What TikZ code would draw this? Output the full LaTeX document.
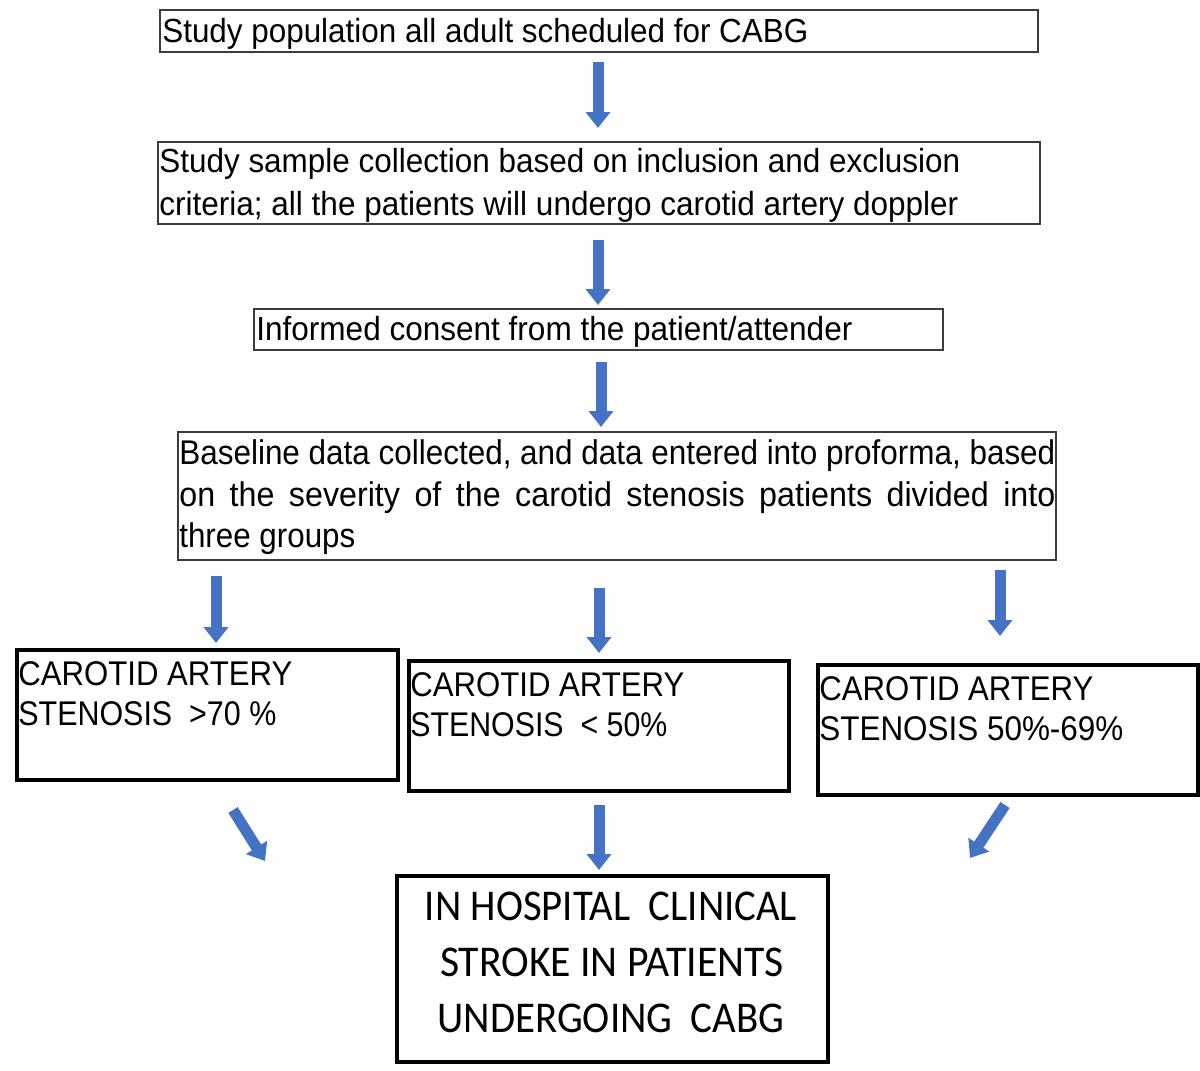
\documentclass[tikz,border=0pt]{standalone}
\usepackage{fontspec}
\setmainfont{Liberation Sans}
\newfontfamily\calib{Carlito}
\usepackage{graphicx}
\usetikzlibrary{arrows.meta,fit}
\newlength\pxu \setlength\pxu{0.02cm}
\newcommand\fitline[2]{\resizebox{#1\pxu}{\height}{#2}}
\definecolor{arrowblue}{RGB}{68,114,196}
\definecolor{thinline}{RGB}{60,60,60}
\begin{document}
\begin{tikzpicture}[x=0.02cm,y=-0.02cm,
  thinbox/.style={draw=thinline, line width=0.04cm, inner sep=0pt},
  thickbox/.style={draw=black, line width=0.07cm, inner sep=0pt},
  txt/.style={inner sep=0pt, anchor=base west, font=\fontsize{19pt}{22pt}\selectfont},
  bigtxt/.style={txt, font=\fontsize{19.5pt}{23pt}\selectfont},
  ctxt/.style={inner sep=0pt, anchor=base, font=\calib\fontsize{25pt}{29pt}\selectfont},
  bluearrow/.style={draw=arrowblue, line width=0.22cm, -{Triangle[width=0.48cm,length=0.32cm]}}
]
\useasboundingbox (0,0) rectangle (1200,1071);

% boxes
\node[thinbox, fit={(160,10) (1038,52)}] (b1) {};
\node[thinbox, fit={(158,142) (1040,224)}] (b2) {};
\node[thinbox, fit={(254,309) (943,350)}] (b3) {};
\node[thinbox, fit={(178,432) (1056,560)}] (b4) {};
\node[thickbox, fit={(17,650) (398,780)}] (b5) {};
\node[thickbox, fit={(409,661) (789,791)}] (b6) {};
\node[thickbox, fit={(818,665) (1198,795)}] (b7) {};
\node[thickbox, fit={(397,876) (828,1062)}] (b8) {};

% texts
\node[txt] (t1) at (162,43) {\fitline{646}{Study population all adult scheduled for CABG}};
\node[txt] (t2a) at (159,173) {\fitline{801}{Study sample collection based on inclusion and exclusion}};
\node[txt] (t2b) at (159,215) {\fitline{799}{criteria; all the patients will undergo carotid artery doppler}};
\node[txt] (t3) at (256,340) {\fitline{596}{Informed consent from the patient/attender}};
\node[bigtxt] (t4a) at (179,464) {\fitline{876}{Baseline data collected, and data entered into proforma, based}};
\node[bigtxt] (t4b) at (179,506) {\fitline{876}{on\hspace{0.45em}the\hspace{0.45em}severity\hspace{0.45em}of\hspace{0.45em}the\hspace{0.45em}carotid\hspace{0.45em}stenosis\hspace{0.45em}patients\hspace{0.45em}divided\hspace{0.45em}into}};
\node[bigtxt] (t4c) at (179,547) {\fitline{176}{three groups}};
\node[bigtxt] (t5a) at (18,685) {\fitline{274}{CAROTID ARTERY}};
\node[bigtxt] (t5b) at (18,725) {\fitline{258}{STENOSIS~ >70 \%}};
\node[bigtxt] (t6a) at (410,696) {\fitline{274}{CAROTID ARTERY}};
\node[bigtxt] (t6b) at (410,736) {\fitline{257}{STENOSIS~ < 50\%}};
\node[bigtxt] (t7a) at (819,700) {\fitline{274}{CAROTID ARTERY}};
\node[bigtxt] (t7b) at (819,740) {\fitline{304}{STENOSIS 50\%-69\%}};
\node[ctxt] (t8a) at (611,920) {\fitline{372}{IN HOSPITAL~ CLINICAL}};
\node[ctxt] (t8b) at (612,976) {\fitline{344}{STROKE IN PATIENTS}};
\node[ctxt] (t8c) at (611,1032) {\fitline{347}{UNDERGOING~ CABG}};

% arrow end points
\coordinate (a1s) at (598,62);   \coordinate (a1e) at (598,128);
\coordinate (a2s) at (598,240);  \coordinate (a2e) at (598,305);
\coordinate (a3s) at (601,362);  \coordinate (a3e) at (601,427);
\coordinate (a4s) at (216,576);  \coordinate (a4e) at (216,643);
\coordinate (a5s) at (599,588);  \coordinate (a5e) at (599,653);
\coordinate (a6s) at (1000,570); \coordinate (a6e) at (1000,636);
\coordinate (a7s) at (233,810);  \coordinate (a7e) at (265,861);
\coordinate (a8s) at (599,805);  \coordinate (a8e) at (599,870);
\coordinate (a9s) at (1005,805); \coordinate (a9e) at (970,858);

\draw[bluearrow] (a1s) -- (a1e);
\draw[bluearrow] (a2s) -- (a2e);
\draw[bluearrow] (a3s) -- (a3e);
\draw[bluearrow] (a4s) -- (a4e);
\draw[bluearrow] (a5s) -- (a5e);
\draw[bluearrow] (a6s) -- (a6e);
\draw[bluearrow] (a7s) -- (a7e);
\draw[bluearrow] (a8s) -- (a8e);
\draw[bluearrow] (a9s) -- (a9e);
\end{tikzpicture}
\end{document}
